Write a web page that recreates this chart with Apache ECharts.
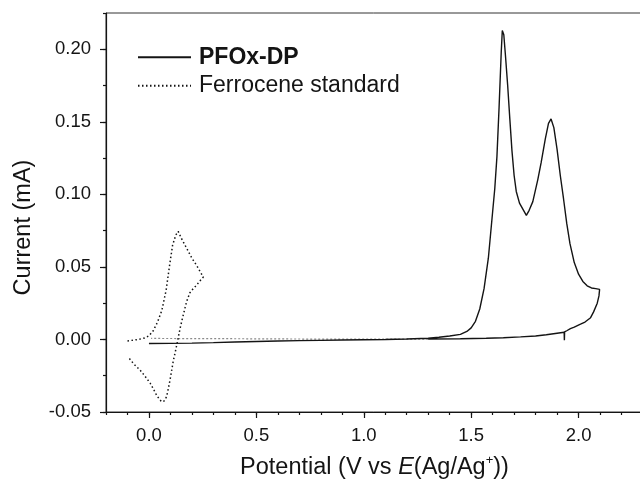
<!DOCTYPE html>
<html>
<head>
<meta charset="utf-8">
<script src="https://cdn.jsdelivr.net/npm/echarts@6/dist/echarts.min.js"></script>
<style>html,body{margin:0;padding:0;background:#fff}#c{width:640px;height:480px}</style>
</head>
<body>
<div id="c"></div>
<script>
// ---- data ----
const pfoxFwdV = [0.00,0.10,0.20,0.30,0.40,0.50,0.60,0.70,0.80,0.90,1.00,1.10,1.20,1.30,1.35,1.40,1.45,1.48,1.50,1.52,1.54,1.56,1.58,1.60,1.61,1.62,1.63,1.64,1.645,1.652,1.66,1.67,1.68,1.69,1.70,1.71,1.725,1.74,1.757,1.77,1.787,1.81,1.826,1.845,1.86,1.872,1.885,1.90,1.915,1.93,1.945,1.96,1.98,2.00,2.02,2.04,2.06,2.08,2.098];
const pfoxFwdI = [-0.0028,-0.0027,-0.0025,-0.0022,-0.0018,-0.0014,-0.0011,-0.0008,-0.0006,-0.0004,-0.0002,0.0000,0.0003,0.0008,0.0015,0.0024,0.0035,0.0055,0.0080,0.0125,0.0210,0.0350,0.0560,0.0880,0.1040,0.1260,0.1600,0.1980,0.2130,0.2100,0.1950,0.1750,0.1520,0.1300,0.1130,0.1020,0.0940,0.0900,0.0855,0.0890,0.0950,0.1100,0.1220,0.1380,0.1490,0.1520,0.1460,0.1310,0.1130,0.0970,0.0800,0.0660,0.0530,0.0450,0.0400,0.0370,0.0355,0.0350,0.0345];
const pfoxRevV = [2.095,2.087,2.07,2.056,2.03,2.009,1.98,1.962,1.945,1.935,1.934,1.933,1.90,1.85,1.80,1.73,1.65,1.57,1.45,1.30];
const pfoxRevI = [0.0300,0.0250,0.0190,0.0150,0.0120,0.0105,0.0085,0.0074,0.0060,0.0052,-0.0005,0.0050,0.0043,0.0032,0.0024,0.0018,0.0012,0.0008,0.0005,0.0003];
const baseV = [1.30,1.00,0.70,0.40,0.20,0.01];
const baseI = [0.0003,0.0002,0.0003,0.0005,0.0006,0.0007];
const fcFwdV = [-0.10,-0.05,-0.02,0.00,0.02,0.04,0.06,0.08,0.095,0.11,0.125,0.136,0.15,0.175,0.20,0.222,0.253];
const fcFwdI = [-0.0010,0.0000,0.0010,0.0025,0.0060,0.0120,0.0200,0.0340,0.0500,0.0650,0.0720,0.0745,0.0700,0.0630,0.0560,0.0510,0.0430];
const fcRevV = [0.235,0.222,0.20,0.19,0.175,0.165,0.155,0.147,0.14,0.132,0.122,0.113,0.105,0.098,0.09,0.082,0.07,0.06,0.05,0.036,0.02,0.005,-0.02,-0.042,-0.07,-0.092];
const fcRevI = [0.0400,0.0375,0.0340,0.0320,0.0260,0.0200,0.0140,0.0090,0.0040,-0.0020,-0.0090,-0.0150,-0.0220,-0.0280,-0.0340,-0.0395,-0.0425,-0.0430,-0.0415,-0.0385,-0.0340,-0.0300,-0.0250,-0.0210,-0.0170,-0.0130];
const xMajor = [0, 0.5, 1.0, 1.5, 2.0];
const yMajor = [-0.05, 0, 0.05, 0.10, 0.15, 0.20];
const seriesNames = ['PFOx-DP', 'Ferrocene standard'];
const xTitle = 'Potential (V vs {i|E}(Ag/Ag{s|+}))';
const yTitle = 'Current (mA)';

function pairs(v, i) { return v.map((x, k) => [x, i[k]]); }
const FF = '"Liberation Sans", Arial, Helvetica, sans-serif';
const INK = '#141414';

const chart = echarts.init(document.getElementById('c'), null, {renderer: 'canvas'});
const isMaj = (arr, v) => arr.some(m => Math.abs(m - v) < 1e-6);

chart.setOption({
  animation: false,
  backgroundColor: '#fff',
  grid: {left: 106, top: 13, width: 537, bottom: 68, show: true, borderColor: '#333', borderWidth: 1,
         containLabel: false, outerBoundsMode: 'none'},
  legend: {
    orient: 'vertical', left: 137, top: 43, itemWidth: 53, itemHeight: 14, itemGap: 0, padding: 0,
    itemStyle: {opacity: 0},
    textStyle: {fontFamily: FF, fontSize: 23, color: INK, lineHeight: 28.5, padding: [0, 0, 0, 3]},
    data: [{name: seriesNames[0], textStyle: {fontWeight: 'bold'}}, {name: seriesNames[1]}]
  },
  xAxis: [
    {
      type: 'value', min: -0.2, max: 2.3, interval: 0.1, position: 'bottom',
      axisLine: {show: true, onZero: false, lineStyle: {color: INK, width: 1.2}},
      axisTick: {show: true, inside: false, length: 3, lineStyle: {color: INK, width: 1.2}},
      axisLabel: {customValues: xMajor, formatter: v => isMaj(xMajor, v) ? v.toFixed(1) : '', margin: 14, fontSize: 18.5, color: INK, fontFamily: FF},
      splitLine: {show: false},
      name: xTitle, nameLocation: 'middle', nameGap: 42,
      nameTextStyle: {fontFamily: FF, fontSize: 23.5, color: INK, lineHeight: 27,
        rich: {i: {fontFamily: FF, fontSize: 23.5, fontStyle: 'italic', color: INK, lineHeight: 27},
               s: {fontFamily: FF, fontSize: 13, color: INK, verticalAlign: 'top', lineHeight: 15}}}
    },
    {
      type: 'value', min: -0.2, max: 2.3, position: 'bottom',
      axisLine: {show: false, onZero: false},
      axisTick: {show: true, customValues: xMajor, inside: false, length: 6, lineStyle: {color: INK, width: 1.2}},
      axisLabel: {show: false}, splitLine: {show: false}
    }
  ],
  yAxis: [
    {
      type: 'value', min: -0.05, max: 0.225, interval: 0.025, position: 'left',
      axisLine: {show: true, onZero: false, lineStyle: {color: INK, width: 1.2}},
      axisTick: {show: true, inside: false, length: 3, lineStyle: {color: INK, width: 1.2}},
      axisLabel: {customValues: yMajor, formatter: v => isMaj(yMajor, v) ? v.toFixed(2) : '', margin: 15, fontSize: 18.5, color: INK, fontFamily: FF},
      splitLine: {show: false},
      name: yTitle, nameLocation: 'middle', nameGap: 70, nameRotate: 90,
      nameTextStyle: {fontFamily: FF, fontSize: 23.5, color: INK, padding: [0, 30, 0, 0]}
    },
    {
      type: 'value', min: -0.05, max: 0.225, position: 'left',
      axisLine: {show: false, onZero: false},
      axisTick: {show: true, customValues: yMajor, inside: false, length: 6, lineStyle: {color: INK, width: 1.2}},
      axisLabel: {show: false}, splitLine: {show: false}
    }
  ],
  series: [
    {
      name: seriesNames[0], type: 'line', xAxisIndex: 0, yAxisIndex: 0, symbol: 'none', smooth: false,
      lineStyle: {color: INK, width: 1.4, type: 'solid'}, itemStyle: {color: INK},
      data: pairs(pfoxFwdV.concat(pfoxRevV), pfoxFwdI.concat(pfoxRevI)), z: 3
    },
    {
      name: seriesNames[1], type: 'line', xAxisIndex: 0, yAxisIndex: 0, symbol: 'none', smooth: false,
      lineStyle: {color: INK, width: 1.5, type: [1.5, 2.5]}, itemStyle: {color: INK},
      data: pairs(fcFwdV.concat(fcRevV), fcFwdI.concat(fcRevI)), z: 2
    },
    {
      name: 'PFOx-DP return', type: 'line', xAxisIndex: 0, yAxisIndex: 0, symbol: 'none', smooth: false,
      lineStyle: {color: '#8a8a8a', width: 1.2, type: [2, 2]}, itemStyle: {color: '#8a8a8a'},
      data: pairs(baseV, baseI), z: 1
    }
  ]
});
</script>
</body>
</html>
